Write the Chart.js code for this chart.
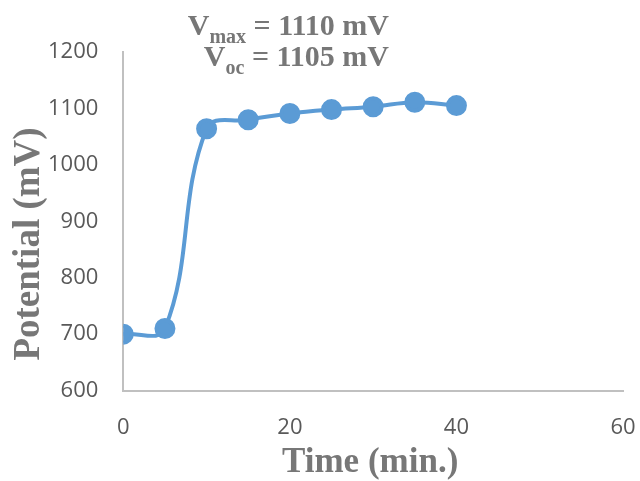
<!DOCTYPE html>
<html>
<head>
<meta charset="utf-8">
<script src="https://cdn.jsdelivr.net/npm/chart.js@4.4.0/dist/chart.umd.min.js"></script>
<style>
  html, body { margin: 0; padding: 0; background: #fff; }
  #wrap { width: 640px; height: 481px; }
</style>
</head>
<body>
<div id="wrap"><canvas id="potentialChart"></canvas></div>
<script>
const timeMin = [0, 5, 10, 15, 20, 25, 30, 35, 40];
const potentialMv = [700, 710, 1064, 1080, 1091, 1098, 1103, 1111, 1105];
const xTicks = [0, 20, 40, 60];
const yTicks = [600, 700, 800, 900, 1000, 1100, 1200];
const xTitle = 'Time (min.)';
const yTitle = 'Potential (mV)';

const gray = '#777777';
const serif = '"Liberation Serif", "Times New Roman", serif';
const sans = '"Open Sans", sans-serif';

// axis titles + the Vmax / Voc note (subscripts need manual drawing)
const textPlugin = {
    id: 'texts',
    afterDraw(chart) {
        const ctx = chart.ctx;
        const area = chart.chartArea;
        ctx.save();
        ctx.fillStyle = gray;

        ctx.textAlign = 'center';
        ctx.textBaseline = 'middle';
        ctx.font = 'bold 35px ' + serif;
        ctx.fillText(xTitle, (area.left + area.right) / 2 - 3, 463);

        ctx.save();
        ctx.translate(29, 244);
        ctx.rotate(-Math.PI / 2);
        ctx.font = 'bold 37px ' + serif;
        ctx.fillText(yTitle, 0, 0);
        ctx.restore();

        ctx.textAlign = 'left';
        ctx.textBaseline = 'alphabetic';
        const lines = [
            { sub: 'max', rest: ' = 1110 mV', y: 35 },
            { sub: 'oc', rest: ' = 1105 mV', y: 66 }
        ];
        const right = 389;
        lines.forEach(l => {
            ctx.font = 'bold 30px ' + serif;
            const wV = ctx.measureText('V').width;
            const wRest = ctx.measureText(l.rest).width;
            ctx.font = 'bold 20px ' + serif;
            const wSub = ctx.measureText(l.sub).width;
            let x = right - wRest - wSub - wV;
            ctx.font = 'bold 30px ' + serif;
            ctx.fillText('V', x, l.y);
            x += wV;
            ctx.font = 'bold 20px ' + serif;
            ctx.fillText(l.sub, x, l.y + 8);
            x += wSub;
            ctx.font = 'bold 30px ' + serif;
            ctx.fillText(l.rest, x, l.y);
        });
        ctx.restore();
    }
};

const ctx = document.getElementById('potentialChart').getContext('2d');
new Chart(ctx, {
    type: 'line',
    data: {
        datasets: [{
            data: timeMin.map((t, i) => ({ x: t, y: potentialMv[i] })),
            borderColor: '#5b9bd5',
            backgroundColor: '#5b9bd5',
            borderWidth: 4,
            pointRadius: 8.5,
            pointHoverRadius: 8.5,
            tension: 0.4,
            fill: false
        }]
    },
    options: {
        responsive: true,
        maintainAspectRatio: false,
        animation: false,
        layout: { padding: { top: 52, right: 17, left: 23, bottom: 40 } },
        plugins: {
            legend: { display: false },
            tooltip: { enabled: false }
        },
        scales: {
            x: {
                type: 'linear',
                min: 0,
                max: 60,
                afterBuildTicks: s => { s.ticks = xTicks.map(v => ({ value: v })); },
                grid: {
                    display: true,
                    drawOnChartArea: false,
                    drawTicks: true,
                    tickLength: 24,
                    tickColor: 'rgba(0,0,0,0)'
                },
                border: { color: '#c0c0c0', width: 2 },
                ticks: {
                    color: '#595959',
                    font: { family: sans, size: 22 },
                    padding: 0,
                    callback: v => String(v)
                }
            },
            y: {
                min: 600,
                max: 1200,
                afterBuildTicks: s => { s.ticks = yTicks.map(v => ({ value: v })); },
                grid: { display: false, drawTicks: false },
                border: { color: '#c0c0c0', width: 2 },
                ticks: {
                    color: '#595959',
                    font: { family: sans, size: 22 },
                    padding: 25,
                    callback: v => String(v)
                }
            }
        }
    },
    plugins: [textPlugin]
});
</script>
</body>
</html>
